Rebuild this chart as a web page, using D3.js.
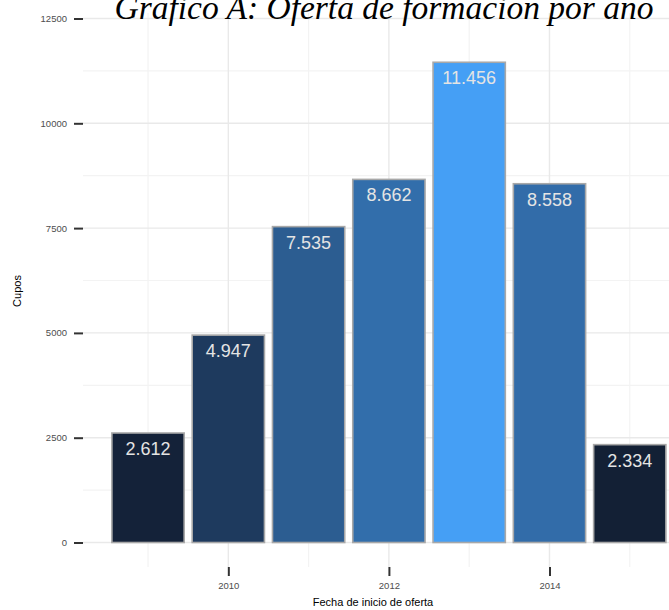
<!DOCTYPE html>
<html>
<head>
<meta charset="utf-8">
<script src="https://cdn.jsdelivr.net/npm/d3@7"></script>
<style>
  body { margin: 0; background: #fff; }
  svg { display: block; }
</style>
</head>
<body>
<div id="chart"></div>
<script>
// Datos del gráfico
var anios = [2009, 2010, 2011, 2012, 2013, 2014, 2015];
var cupos = [2612, 4947, 7535, 8662, 11456, 8558, 2334];
var ticksY = [0, 2500, 5000, 7500, 10000, 12500];
var ticksX = [2010, 2012, 2014];

var width = 669, height = 610;
var panel = { left: 83, top: 13, bottom: 567, right: 694 };

var svg = d3.select("#chart").append("svg")
    .attr("width", width)
    .attr("height", height);

var x = d3.scaleLinear()
    .domain([2008.19, 2015.8])
    .range([panel.left, panel.right]);

var y = d3.scaleLinear()
    .domain([0, 12500])
    .range([542.5, 18.5]);

var color = d3.scaleLinear()
    .domain([d3.min(cupos), d3.max(cupos)])
    .range(["#132035", "#459FF5"])
    .interpolate(d3.interpolateRgb.gamma(0.5));

var es = d3.formatLocale({ decimal: ",", thousands: ".", grouping: [3], currency: ["$", ""] });
var fmt = es.format(",");

// rejilla menor y mayor
var minorY = ticksY.slice(0, -1).map(d => d + 1250);
var minorX = [2009, 2011, 2013, 2015];

svg.append("g").selectAll("line")
    .data(minorY)
    .enter().append("line")
    .attr("x1", panel.left).attr("x2", panel.right)
    .attr("y1", d => y(d)).attr("y2", d => y(d))
    .attr("stroke", "#f3f3f3").attr("stroke-width", 1.2);

svg.append("g").selectAll("line")
    .data(minorX)
    .enter().append("line")
    .attr("x1", d => x(d)).attr("x2", d => x(d))
    .attr("y1", panel.top).attr("y2", panel.bottom)
    .attr("stroke", "#f3f3f3").attr("stroke-width", 1.2);

svg.append("g").selectAll("line")
    .data(ticksY)
    .enter().append("line")
    .attr("x1", panel.left).attr("x2", panel.right)
    .attr("y1", d => y(d)).attr("y2", d => y(d))
    .attr("stroke", "#e9e9e9").attr("stroke-width", 1.4);

svg.append("g").selectAll("line")
    .data(ticksX)
    .enter().append("line")
    .attr("x1", d => x(d)).attr("x2", d => x(d))
    .attr("y1", panel.top).attr("y2", panel.bottom)
    .attr("stroke", "#e9e9e9").attr("stroke-width", 1.4);

// barras
var bw = (x(2010) - x(2009)) * 0.9;
svg.selectAll(".bar")
    .data(anios)
    .enter().append("rect")
    .attr("class", "bar")
    .attr("x", (d) => x(d) - bw / 2)
    .attr("y", (d, i) => y(cupos[i]))
    .attr("width", bw)
    .attr("height", (d, i) => y(0) - y(cupos[i]))
    .attr("fill", (d, i) => color(cupos[i]))
    .attr("stroke", "#a8a8a8")
    .attr("stroke-width", 1.6);

svg.selectAll(".label")
    .data(anios)
    .enter().append("text")
    .attr("class", "label")
    .attr("x", d => x(d))
    .attr("y", (d, i) => y(cupos[i]) + 22)
    .attr("text-anchor", "middle")
    .attr("font-family", "Liberation Sans, Arial, sans-serif")
    .attr("font-size", 18)
    .attr("fill", "#e4e4e4")
    .text((d, i) => fmt(cupos[i]));

// ejes
var axisY = d3.axisLeft(y).tickValues(ticksY).tickFormat(d3.format("d")).tickSize(9).tickPadding(7);
var gy = svg.append("g").attr("transform", "translate(" + panel.left + ",0)").call(axisY);
gy.select(".domain").remove();
gy.selectAll(".tick line").attr("stroke", "#333").attr("stroke-width", 2);
gy.selectAll(".tick text").attr("font-family", "Liberation Sans, Arial, sans-serif")
    .attr("font-size", 9.5).attr("fill", "#4d4d4d");

var axisX = d3.axisBottom(x).tickValues(ticksX).tickFormat(d3.format("d")).tickSize(9).tickPadding(6);
var gx = svg.append("g").attr("transform", "translate(0," + panel.bottom + ")").call(axisX);
gx.select(".domain").remove();
gx.selectAll(".tick line").attr("stroke", "#333").attr("stroke-width", 2);
gx.selectAll(".tick text").attr("font-family", "Liberation Sans, Arial, sans-serif")
    .attr("font-size", 9.5).attr("fill", "#4d4d4d");

// títulos
svg.append("text")
    .attr("x", 373).attr("y", 606)
    .attr("text-anchor", "middle")
    .attr("font-family", "Liberation Sans, Arial, sans-serif")
    .attr("font-size", 11)
    .text("Fecha de inicio de oferta");

svg.append("text")
    .attr("transform", "translate(21,291) rotate(-90)")
    .attr("text-anchor", "middle")
    .attr("font-family", "Liberation Sans, Arial, sans-serif")
    .attr("font-size", 11)
    .text("Cupos");

svg.append("text")
    .attr("x", 384).attr("y", 19)
    .attr("text-anchor", "middle")
    .attr("font-family", "Liberation Serif, Times New Roman, serif")
    .attr("font-style", "italic")
    .attr("font-size", 33.5)
    .text("Gráfico A: Oferta de formación por año");
</script>
</body>
</html>
